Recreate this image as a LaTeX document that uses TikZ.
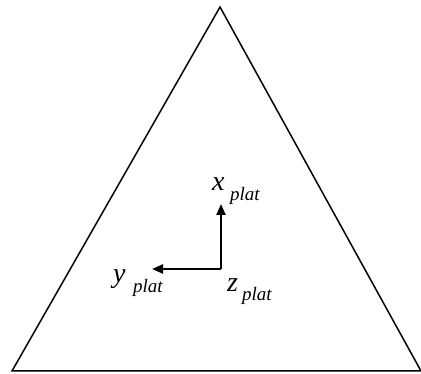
\documentclass[tikz,border=0pt]{standalone}
\usepackage{fontspec}
\setmainfont{Liberation Serif}
\usetikzlibrary{arrows.meta}
\begin{document}
\begin{tikzpicture}[x=1pt,y=-1pt,
  edge/.style={line width=1.5pt, line join=miter},
  axis/.style={line width=2.2pt, -{Triangle[length=11pt,width=9pt]}},
  mainlbl/.style={anchor=base west, inner sep=0pt, font=\fontsize{28}{30}\selectfont\itshape},
  sublbl/.style={anchor=base west, inner sep=0pt, font=\fontsize{19}{21}\selectfont\itshape}]
\useasboundingbox (0,0) rectangle (421,374);
\coordinate (apex) at (220,7);
\coordinate (bl) at (12,371);
\coordinate (br) at (421,371);
\draw[edge] (apex) -- (bl) -- (br) -- cycle;
\coordinate (o) at (221,269);
\coordinate (xt) at (221,204);
\coordinate (yt) at (152,269);
\draw[axis] (o) -- (xt);
\draw[axis] (o) -- (yt);
\node[mainlbl] (xl) at (212,191) {x};
\node[sublbl] (xs) at (230,201) {plat};
\node[mainlbl] (yl) at (113,283) {y};
\node[sublbl] (ys) at (133,293) {plat};
\node[mainlbl] (zl) at (227,292) {z};
\node[sublbl] (zs) at (242,301) {plat};
\end{tikzpicture}
\end{document}
